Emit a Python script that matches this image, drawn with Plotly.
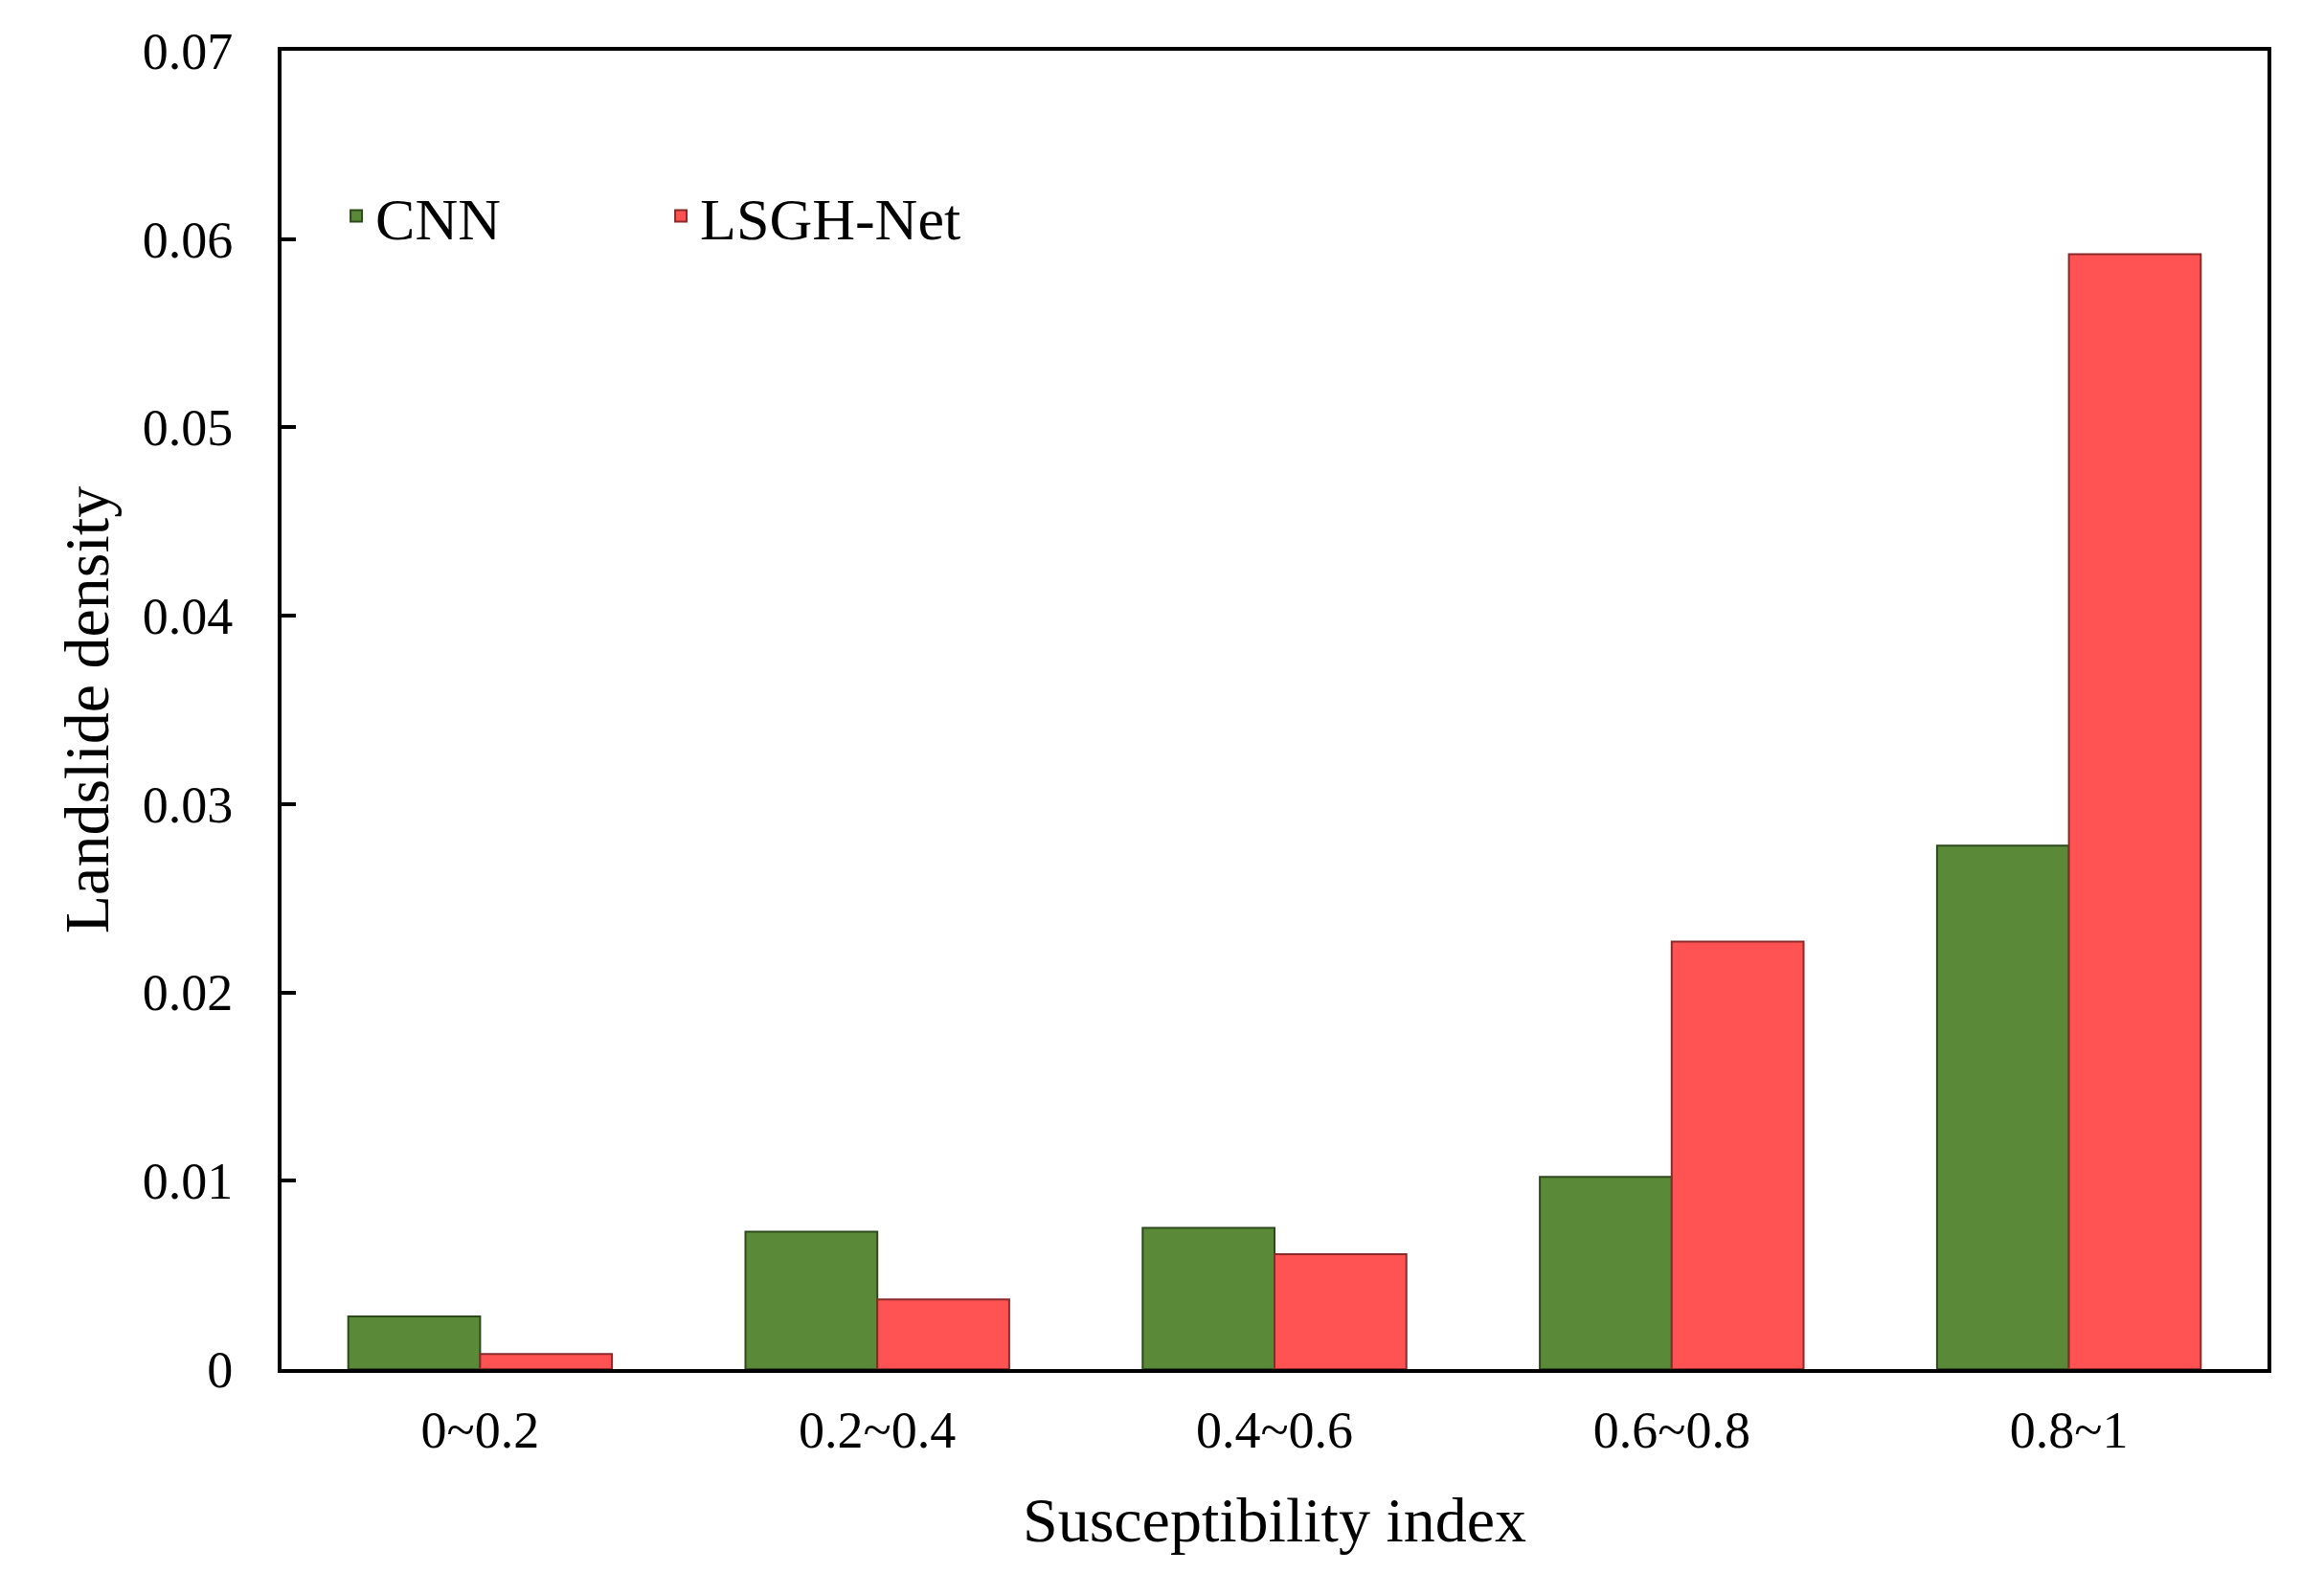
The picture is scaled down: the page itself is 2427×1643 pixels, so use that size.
import plotly.graph_objects as go

categories = ["0~0.2", "0.2~0.4", "0.4~0.6", "0.6~0.8", "0.8~1"]
cnn_values = [0.0028, 0.0073, 0.0075, 0.0102, 0.0278]
lsgh_values = [0.0008, 0.0037, 0.0061, 0.0227, 0.0592]
y_tick_vals = [0, 0.01, 0.02, 0.03, 0.04, 0.05, 0.06, 0.07]
y_tick_text = ["0", "0.01", "0.02", "0.03", "0.04", "0.05", "0.06", "0.07"]

FONT = "Liberation Serif, Times New Roman, serif"

fig = go.Figure()
fig.add_trace(go.Bar(
    x=categories, y=cnn_values, name="CNN",
    marker=dict(color="#5A8A38", line=dict(color="#2E4A1C", width=2)),
))
fig.add_trace(go.Bar(
    x=categories, y=lsgh_values, name="LSGH-Net",
    marker=dict(color="#FF5252", line=dict(color="#8A2A2A", width=2)),
))

fig.update_layout(
    width=2411, height=1627,
    margin=dict(l=286, r=51, t=45, b=205),
    paper_bgcolor="white", plot_bgcolor="white",
    barmode="group", bargap=0.336, bargroupgap=0,
    font=dict(family=FONT, color="black", size=54),
    showlegend=True,
    legend=dict(
        orientation="h", x=0.028, y=0.8745, xanchor="left", yanchor="middle",
        font=dict(family=FONT, size=62, color="black"),
        bgcolor="rgba(0,0,0,0)", entrywidth=294, entrywidthmode="pixels",
    ),
)
fig.update_xaxes(
    showline=True, linecolor="black", linewidth=4, mirror=True,
    ticks="", tickfont=dict(family=FONT, size=54), ticklabelstandoff=13,
    title=dict(text="Susceptibility index", font=dict(family=FONT, size=66), standoff=42),
    showgrid=False,
)
fig.update_yaxes(
    range=[0, 0.07], tickvals=y_tick_vals, ticktext=y_tick_text,
    showline=True, linecolor="black", linewidth=4, mirror=True,
    ticks="inside", ticklen=15, tickwidth=4, tickcolor="black",
    tickfont=dict(family=FONT, size=54), ticklabelstandoff=36,
    title=dict(text="Landslide density", font=dict(family=FONT, size=66), standoff=15),
    showgrid=False, zeroline=False,
)

fig.write_html("out.html")
